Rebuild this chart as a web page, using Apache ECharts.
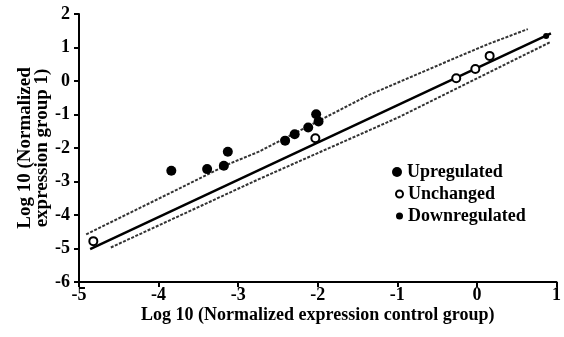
<!DOCTYPE html>
<html>
<head>
<meta charset="utf-8">
<script src="https://cdn.jsdelivr.net/npm/echarts@6/dist/echarts.min.js"></script>
<style>
  html, body { margin: 0; padding: 0; background: #fff; }
  #chart { width: 564px; height: 337px; }
</style>
</head>
<body>
<div id="chart"></div>
<script>
// points (log10 control, log10 group 1)
const upX = [-3.84, -3.39, -3.18, -3.13, -2.41, -2.29, -2.12, -2.02, -1.99]
const upY = [-2.68, -2.63, -2.53, -2.11, -1.78, -1.59, -1.39, -0.99, -1.21]
const unchX = [-4.82, -2.03, -0.26, -0.02, 0.16]
const unchY = [-4.78, -1.71, 0.08, 0.36, 0.75]
const downX = [0.87]
const downY = [1.34]

// regression line and its band
const fitX = [-4.86, 0.93]
const fitY = [-5.02, 1.42]
const upperX = [-4.91, -3.11, -2.74, -1.36, -0.24, 0.14, 0.64]
const upperY = [-4.58, -2.47, -2.11, -0.42, 0.72, 1.1, 1.55]
const lowerX = [-4.6, -2.74, -1.0, 0.93]
const lowerY = [-4.97, -2.93, -1.1, 1.17]

const xTicks = [-5, -4, -3, -2, -1, 0, 1]
const yTicks = [-6, -5, -4, -3, -2, -1, 0, 1, 2]

const pairs = (xs, ys) => xs.map((x, i) => [x, ys[i]])

const font = 'Liberation Serif'
const chart = echarts.init(document.getElementById('chart'))

const txt = (size) => ({ color: '#000', fontFamily: font, fontWeight: 'bold', fontSize: size })
const axisCommon = {
  splitLine: { show: false },
  axisLine: { onZero: false, lineStyle: { color: '#000', width: 2 } },
  axisTick: { length: 5, lineStyle: { color: '#000', width: 2 } },
  nameMoveOverlap: false
}

chart.setOption({
  animation: false,
  grid: { left: 79, right: 4, top: 14, bottom: 55 },
  xAxis: Object.assign({}, axisCommon, {
    type: 'value',
    min: xTicks[0],
    max: xTicks[xTicks.length - 1],
    interval: 1,
    name: 'Log 10 (Normalized expression control group)',
    nameLocation: 'middle',
    nameGap: 24,
    nameTextStyle: txt(18),
    axisLabel: Object.assign(txt(18), { margin: 4 })
  }),
  yAxis: Object.assign({}, axisCommon, {
    type: 'value',
    min: yTicks[0],
    max: yTicks[yTicks.length - 1],
    interval: 1,
    name: 'Log 10 (Normalized\nexpression group 1)',
    nameLocation: 'middle',
    nameGap: 28,
    nameTextStyle: Object.assign(txt(19), { lineHeight: 17 }),
    axisLabel: Object.assign(txt(18), { margin: 9 })
  }),
  legend: [
    {
      orient: 'vertical',
      left: 387,
      top: 158,
      itemWidth: 10,
      itemHeight: 10,
      itemGap: 4,
      data: ['Upregulated'],
      textStyle: txt(18)
    },
    {
      orient: 'vertical',
      left: 390,
      top: 180,
      itemWidth: 7,
      itemHeight: 7,
      itemGap: 4,
      data: ['Unchanged', 'Downregulated'],
      textStyle: txt(18)
    }
  ],
  series: [
    {
      name: 'upper',
      type: 'line',
      data: pairs(upperX, upperY),
      symbol: 'none',
      lineStyle: { color: '#333', width: 2, type: [3, 1.5] },
      z: 1
    },
    {
      name: 'lower',
      type: 'line',
      data: pairs(lowerX, lowerY),
      symbol: 'none',
      lineStyle: { color: '#333', width: 2, type: [3, 1.5] },
      z: 1
    },
    {
      name: 'fit',
      type: 'line',
      data: pairs(fitX, fitY),
      symbol: 'none',
      lineStyle: { color: '#000', width: 2.5 },
      z: 2
    },
    {
      name: 'Upregulated',
      type: 'scatter',
      data: pairs(upX, upY),
      symbol: 'circle',
      symbolSize: 10,
      itemStyle: { color: '#000', opacity: 1 },
      z: 3
    },
    {
      name: 'Unchanged',
      type: 'scatter',
      data: pairs(unchX, unchY),
      symbol: 'circle',
      symbolSize: 8,
      itemStyle: { color: '#fff', borderColor: '#000', borderWidth: 2, opacity: 1 },
      z: 3
    },
    {
      name: 'Downregulated',
      type: 'scatter',
      data: pairs(downX, downY),
      symbol: 'circle',
      symbolSize: 6,
      itemStyle: { color: '#000', opacity: 1 },
      z: 3
    }
  ]
})
</script>
</body>
</html>
